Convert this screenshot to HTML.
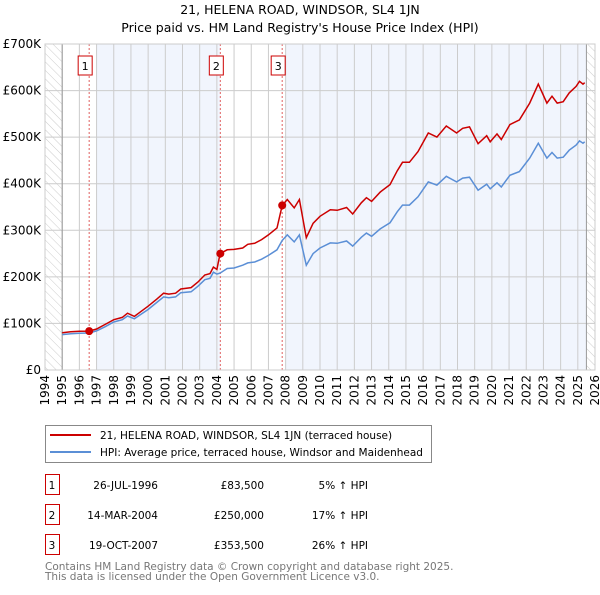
<!DOCTYPE html>
<html><head><meta charset="utf-8">
<style>
body{margin:0;background:#fff;font-family:"Liberation Sans","DejaVu Sans",sans-serif;}
svg text{font-family:"DejaVu Sans","Liberation Sans",sans-serif;}
</style></head>
<body>
<svg id="chart" width="600" height="590" viewBox="0 0 600 590" xmlns="http://www.w3.org/2000/svg">
<defs>
<pattern id="hatch" width="6" height="6" patternUnits="userSpaceOnUse" patternTransform="rotate(-45)">
<line x1="0" y1="0" x2="0" y2="6" stroke="#ccc" stroke-width="1"/>
</pattern>
</defs>
<text x="300" y="14" text-anchor="middle" font-size="12.5">21, HELENA ROAD, WINDSOR, SL4 1JN</text>
<text x="300" y="32" text-anchor="middle" font-size="12.5">Price paid vs. HM Land Registry's House Price Index (HPI)</text>
<g id="plot"></g>
<g>
<rect x="45.5" y="425.5" width="386" height="37" fill="#fff" stroke="#888"/>
<line x1="50" y1="435" x2="91" y2="435" stroke="#cc0000" stroke-width="2"/>
<text x="100" y="439" font-size="10.5">21, HELENA ROAD, WINDSOR, SL4 1JN (terraced house)</text>
<line x1="50" y1="452" x2="91" y2="452" stroke="#5b8fd6" stroke-width="2"/>
<text x="100" y="456" font-size="10.5">HPI: Average price, terraced house, Windsor and Maidenhead</text>
</g>
<g id="table" font-size="10.5"></g>
<text x="45" y="570" font-size="10.5" fill="#777">Contains HM Land Registry data © Crown copyright and database right 2025.</text>
<text x="45" y="580" font-size="10.5" fill="#777">This data is licensed under the Open Government Licence v3.0.</text>
</svg>
<script>
const hpiYears=[1995.0,1995.5,1996.0,1996.57,1997.0,1997.5,1998.0,1998.5,1998.8,1999.2,1999.6,2000.0,2000.5,2000.9,2001.2,2001.6,2001.9,2002.5,2002.9,2003.3,2003.6,2003.8,2004.0,2004.19,2004.6,2005.0,2005.5,2005.8,2006.2,2006.6,2007.0,2007.5,2007.8,2008.1,2008.5,2008.8,2009.2,2009.6,2010.0,2010.6,2011.0,2011.55,2011.9,2012.4,2012.7,2013.0,2013.5,2014.07,2014.5,2014.8,2015.2,2015.7,2016.3,2016.8,2017.35,2017.95,2018.3,2018.7,2019.2,2019.7,2019.9,2020.3,2020.55,2021.05,2021.6,2022.2,2022.7,2023.2,2023.5,2023.8,2024.15,2024.5,2024.9,2025.1,2025.3,2025.4];
const hpiValues=[76,78,79,79.5,84,93,103,108,116,110,120,130,145,157,155,157,166,168,180,194,197,210,206,208,218,219,225,230,232,238,246,258,278,290,275,290,225,250,262,273,272,277,266,285,294,287,303,316,340,354,354,372,404,397,416,404,412,414,386,399,389,402,393,418,426,455,487,455,467,455,457,472,483,492,487,490];
const priceValues=[80,82,83,83.5,88,98,108,113,122,115,126,137,152,165,163,165,174,177,189,204,207,221,216,250,258,259,262,270,272,280,290,305,353.5,366,348,366,284,315,330,344,343,349,335,359,370,362,382,398,428,446,446,469,509,500,524,509,519,522,486,503,490,507,495,527,537,573,614,573,588,573,576,595,609,620,614,617];
const saleYears=[1996.57,2004.2,2007.8];
const salePrices=[83.5,250,353.5];
const saleLabels=["1","2","3"];
const saleDates=["26-JUL-1996","14-MAR-2004","19-OCT-2007"];
const salePriceText=["£83,500","£250,000","£353,500"];
const saleHpiText=["5% ↑ HPI","17% ↑ HPI","26% ↑ HPI"];
const yTicks=[0,100,200,300,400,500,600,700];
const yTickLabels=["£0","£100K","£200K","£300K","£400K","£500K","£600K","£700K"];
const xTicks=[1994,1995,1996,1997,1998,1999,2000,2001,2002,2003,2004,2005,2006,2007,2008,2009,2010,2011,2012,2013,2014,2015,2016,2017,2018,2019,2020,2021,2022,2023,2024,2025,2026];

const NS="http://www.w3.org/2000/svg";
const L=45,R=595,T=44,B=370,X0=1994,X1=2026,YMAX=700;
const xs=v=>L+(v-X0)/(X1-X0)*(R-L);
const ys=v=>B-v/YMAX*(B-T);
const plot=document.getElementById('plot');
function mk(tag,attrs,parent){const e=document.createElementNS(NS,tag);for(const k in attrs)e.setAttribute(k,attrs[k]);(parent||plot).appendChild(e);return e;}

let e;
e=mk('rect',{x:L,y:T,width:R-L,height:B-T,fill:'#fff'});


e=mk('rect',{x:xs(1997),y:T,width:xs(2004.2)-xs(1997),height:B-T,fill:'#f1f5fd'});


e=mk('rect',{x:xs(2008),y:T,width:xs(2025.5)-xs(2008),height:B-T,fill:'#f1f5fd'});


e=mk('rect',{x:L,y:T,width:xs(1995)-L,height:B-T,fill:'url(#hatch)'});


e=mk('rect',{x:xs(2025.5),y:T,width:R-xs(2025.5),height:B-T,fill:'url(#hatch)'});



xTicks.forEach((t,i)=>{
  const g=mk('line',{x1:xs(t),x2:xs(t),y1:T,y2:B,stroke:'#ccc','stroke-width':1});
  
  
  const tx=mk('text',{x:0,y:0,'font-size':12,'text-anchor':'end',transform:`translate(${xs(t)+4},${B+5}) rotate(-90)`});
  tx.textContent=t;
  
  
});
yTicks.forEach((t,i)=>{
  const g=mk('line',{x1:L,x2:R,y1:ys(t),y2:ys(t),stroke:'#ccc','stroke-width':1});
  
  
  const tx=mk('text',{x:L-4,y:ys(t)+4,'font-size':12,'text-anchor':'end'});
  tx.textContent=yTickLabels[i];
  
  
});
e=mk('line',{x1:xs(1995),x2:xs(1995),y1:T,y2:B,stroke:'#999'});


e=mk('line',{x1:xs(2025.5),x2:xs(2025.5),y1:T,y2:B,stroke:'#999'});



saleYears.forEach((yr,i)=>{
  const l=mk('line',{x1:xs(yr),x2:xs(yr),y1:T,y2:B,stroke:'#e06060','stroke-width':1,'stroke-dasharray':'2,2'});
  
  
  const bx=mk('rect',{x:xs(yr)-11,y:56,width:14,height:19,fill:'#fff',stroke:'#cc0000'});
  
  
  const t=mk('text',{x:xs(yr)-4,y:70,'font-size':11,'text-anchor':'middle'});
  t.textContent=saleLabels[i];
  
  
});

const path=(ys_)=>hpiYears.map((y,i)=>(i?'L':'M')+xs(y).toFixed(1)+','+ys(ys_[i]).toFixed(1)).join('');
e=mk('path',{d:path(hpiValues),fill:'none',stroke:'#5b8fd6','stroke-width':1.5});


e=mk('path',{d:path(priceValues),fill:'none',stroke:'#cc0000','stroke-width':1.5});


saleYears.forEach((yr,i)=>{
  const c=mk('circle',{cx:xs(yr),cy:ys(salePrices[i]),r:4,fill:'#cc0000'});
  
  
});
e=mk('rect',{x:L,y:T,width:R-L,height:B-T,fill:'none',stroke:'#ccc'});



const tbl=document.getElementById('table');
saleLabels.forEach((lab,i)=>{
  const y=485+i*30;
  const b=mk('rect',{x:45.5,y:y-10.5,width:14,height:20,fill:'#fff',stroke:'#cc0000'},tbl);
  
  
  const t1=mk('text',{x:52,y:y+4,'text-anchor':'middle'},tbl);t1.textContent=lab;
  
  
  const t2=mk('text',{x:158,y:y+4,'text-anchor':'end'},tbl);t2.textContent=saleDates[i];
  
  
  const t3=mk('text',{x:264,y:y+4,'text-anchor':'end'},tbl);t3.textContent=salePriceText[i];
  
  
  const t4=mk('text',{x:368,y:y+4,'text-anchor':'end'},tbl);t4.textContent=saleHpiText[i];
  
  
});
</script>
</body></html>
